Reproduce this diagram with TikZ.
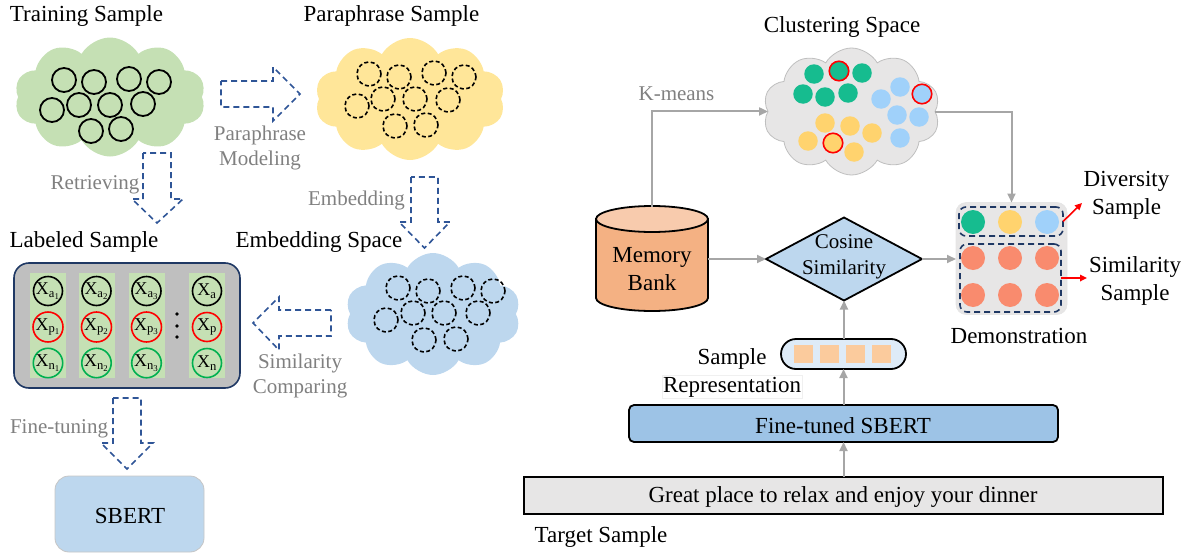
\documentclass[tikz,border=0pt]{standalone}
\usepackage{fontspec}
\setmainfont{Liberation Serif}
\usetikzlibrary{shapes.geometric,shapes.symbols,arrows.meta}

\definecolor{cgreen}{HTML}{C5E0B4}
\definecolor{cyellow}{HTML}{FFE699}
\definecolor{cblue}{HTML}{BDD7EE}
\definecolor{cgray}{HTML}{E7E6E6}
\definecolor{navy}{HTML}{2F5597}
\definecolor{darknavy}{HTML}{1F3864}
\definecolor{labgray}{HTML}{BFBFBF}
\definecolor{txtgray}{HTML}{808080}
\definecolor{lngray}{HTML}{A6A6A6}
\definecolor{pgreen}{HTML}{00B050}
\definecolor{dteal}{HTML}{16BC8F}
\definecolor{dsky}{HTML}{A0D1FA}
\definecolor{dgold}{HTML}{FFD36E}
\definecolor{dsalmon}{HTML}{F98B6E}
\definecolor{bankbody}{HTML}{F4B183}
\definecolor{banktop}{HTML}{F8CBAD}
\definecolor{sbertblue}{HTML}{9DC3E6}
\definecolor{pillblue}{HTML}{DEEBF7}
\definecolor{cellfill}{HTML}{FBCB9D}

\newcommand{\xsub}[2]{X\textsubscript{#1\textsubscript{#2}}}

\tikzset{
  every node/.style={inner sep=0pt, outer sep=0pt},
  ttl/.style={font=\fontsize{23}{28}\selectfont, anchor=base},
  ttl2/.style={font=\fontsize{23}{28}\selectfont, align=center},
  glabel/.style={font=\fontsize{21}{26}\selectfont, text=txtgray, anchor=base},
  glabel2/.style={font=\fontsize{21}{25}\selectfont, text=txtgray, align=center},
  cloudnode/.style={cloud, cloud puffs=10, cloud puff arc=120, aspect=1.6},
  ring/.style={circle, draw, line width=1.8pt, minimum size=24pt},
  dring/.style={ring, line width=1.6pt, dash pattern=on 4pt off 2.5pt},
  col/.style={fill=cgreen, minimum width=36pt, minimum height=105pt},
  lab/.style={circle, draw, line width=1.6pt, minimum size=29pt, font=\fontsize{18}{20}\selectfont},
  blockarrow/.style={draw=navy, line width=1.6pt, dash pattern=on 6pt off 4pt, line join=miter},
  garrow/.style={draw=lngray, line width=2pt, -{Triangle[length=9pt,width=8pt]}},
  rarrow/.style={draw=red, line width=1.6pt, -{Triangle[length=7pt,width=6.5pt]}},
  dot/.style={circle, minimum size=19.5pt},
  pick/.style={draw=red, line width=1.6pt},
  ddot/.style={circle, minimum size=24pt},
  groupbox/.style={draw=darknavy, line width=1.6pt, dash pattern=on 6pt off 4pt, rounded corners=7pt},
}

\begin{document}
\begin{tikzpicture}[x=1pt, y=-1pt]
\useasboundingbox (0,0) rectangle (1191,554);

% ---------------- left pipeline ----------------
\node[ttl] (tTrain) at (86.5,21) {Training Sample};
\node[ttl] (tPara) at (391.5,21) {Paraphrase Sample};
\node[ttl] (tLab) at (84,247) {Labeled Sample};
\node[ttl] (tEmb) at (319,247) {Embedding Space};

% clouds
\node[cloudnode, fill=cgreen, minimum width=191pt, minimum height=119pt] (train) at (110,97) {};
\node[cloudnode, fill=cyellow, minimum width=190pt, minimum height=122pt] (para) at (410,99) {};
\node[cloudnode, fill=cblue, minimum width=175pt, minimum height=122pt] (emb) at (433,314) {};

\foreach \x/\y [count=\i] in {64/80,94/82,129/79,159/82,52/110,79/105,110/105,143/104,91/131,121/129}
  \node[ring] (g\i) at (\x,\y) {};
\foreach \x/\y [count=\i] in {369/74,399/77,434/73,464/77,357/106,383/99,415/99,448/100,395/126,426/125}
  \node[dring] (y\i) at (\x,\y) {};
\foreach \x/\y [count=\i] in {398/288,428/291,463/288,493/291,386/320,413/313,444/313,478/313,424/340,456/339}
  \node[dring] (b\i) at (\x,\y) {};

% dashed block arrows
\draw[blockarrow] (221,81) -- (273,81) -- (273,67) -- (300,94) -- (273,121) -- (273,107) -- (221,107) -- cycle;
\draw[blockarrow] (143,153) -- (143,199) -- (132,199) -- (157,223) -- (183,199) -- (171,199) -- (171,153) -- cycle;
\draw[blockarrow] (411,177) -- (411,222) -- (399,222) -- (424.5,248) -- (450,222) -- (438,222) -- (438,177) -- cycle;
\draw[blockarrow] (331,310) -- (279,310) -- (279,297) -- (253,323) -- (279,350) -- (279,336) -- (331,336) -- cycle;
\draw[blockarrow] (113,398) -- (113,443) -- (101,443) -- (127,469) -- (153,443) -- (141,443) -- (141,398) -- cycle;

\node[glabel2] (lPara) at (260,148) {Paraphrase\\Modeling};
\node[glabel] (lRet) at (95,189) {Retrieving};
\node[glabel] (lEmb) at (356.5,205) {Embedding};
\node[glabel2] (lSim) at (300,375.6) {Similarity\\Comparing};
\node[glabel] (lFine) at (59,433) {Fine-tuning};

% labeled sample table
\node[draw=darknavy, fill=labgray, line width=1.6pt, rounded corners=15pt,
      minimum width=226pt, minimum height=125pt] (labbox) at (127,325.5) {};
\foreach \x [count=\i] in {48,96.5,146.5,207}
  \node[col] (c\i) at (\x,325.5) {};
\foreach \x [count=\i] in {48,96.5,146.5} {
  \node[lab] (xa\i) at (\x,291) {\xsub{a}{\i}};
  \node[lab, draw=red] (xp\i) at (\x,327) {\xsub{p}{\i}};
  \node[lab, draw=pgreen] (xn\i) at (\x,363) {\xsub{n}{\i}};
}
\node[lab] (xa) at (207,291) {X\textsubscript{a}};
\node[lab, draw=red] (xp) at (207,327) {X\textsubscript{p}};
\node[lab, draw=pgreen] (xn) at (207,363) {X\textsubscript{n}};
\fill (177,314) circle (1.8) (177,326) circle (1.8) (177,337) circle (1.8);

% SBERT
\node[draw=gray!45, fill=cblue, line width=0.8pt, rounded corners=14pt,
      minimum width=149pt, minimum height=76pt] (sbert) at (129.5,514) {};
\node[ttl] (sbertT) at (130,523) {SBERT};

% ---------------- right pipeline ----------------
\node[ttl] (tClus) at (842,32) {Clustering Space};
\node[cloudnode, fill=cgray, draw=gray!50, line width=0.8pt,
      minimum width=177pt, minimum height=127pt] (clus) at (851.5,111.5) {};

\foreach \x/\y [count=\i] in {814/74,862/73,803/94,825/97,848/93}
  \node[dot, fill=dteal] (dg\i) at (\x,\y) {};
\node[dot, fill=dteal, pick] (dg6) at (839,71) {};
\foreach \x/\y [count=\i] in {900/87,881/99,897/115,919/117,900/138}
  \node[dot, fill=dsky] (ds\i) at (\x,\y) {};
\node[dot, fill=dsky, pick] (ds6) at (922,94) {};
\foreach \x/\y [count=\i] in {825/123,850/126,872/133,808/141,854/152}
  \node[dot, fill=dgold] (dy\i) at (\x,\y) {};
\node[dot, fill=dgold, pick] (dy6) at (833,143) {};

\node[glabel] (lKm) at (676.5,100) {K-means};

% memory bank cylinder
\node[minimum width=112pt, minimum height=105pt] (mem) at (652,259) {};
\filldraw[fill=bankbody, draw=black, line width=1.8pt]
  (596,219) -- (596,298) arc[start angle=180, end angle=0, x radius=56, y radius=13] -- (708,219) -- cycle;
\filldraw[fill=banktop, draw=black, line width=1.8pt] (652,219) ellipse [x radius=56, y radius=13];
\node[ttl2] (memT) at (652,268.6) {Memory\\Bank};

% cosine similarity
\node[diamond, draw, fill=cblue, line width=1.8pt, minimum width=156pt, minimum height=83pt] (cos) at (844,259) {};
\node[font=\fontsize{21}{26}\selectfont, align=center] (cosT) at (844,257.1) {Cosine\\Similarity};

% sample representation
\node[draw, fill=pillblue, line width=1.8pt, rounded corners=15pt,
      minimum width=125pt, minimum height=30pt] (rep) at (843.5,354) {};
\foreach \x [count=\i] in {803,829,855,881}
  \node[fill=cellfill, minimum width=19pt, minimum height=18pt] (cell\i) at (\x,354) {};
\node[ttl] (repT1) at (732,364) {Sample};
\node[ttl, draw=gray!12, line width=0.6pt, inner xsep=1pt, inner ysep=1.5pt] (repT2) at (732,392) {Representation};

% fine-tuned SBERT and target sample
\node[draw, fill=sbertblue, line width=1.8pt, rounded corners=5pt,
      minimum width=429pt, minimum height=37pt] (ftsbert) at (843.5,423.5) {};
\node[ttl] (ftT) at (843,433) {Fine-tuned SBERT};
\node[draw, fill=cgray, line width=1.8pt, minimum width=639pt, minimum height=37pt] (target) at (843.5,495.5) {};
\node[ttl] (targetT) at (843,502) {Great place to relax and enjoy your dinner};
\node[ttl] (tTarget) at (601,542) {Target Sample};

% demonstration
\node[fill=cgray, draw=gray!20, line width=0.6pt, rounded corners=10pt,
      minimum width=111pt, minimum height=112pt] (demo) at (1011.5,258.5) {};
\node[groupbox, minimum width=104pt, minimum height=29pt] (divbox) at (1011,221.5) {};
\node[groupbox, minimum width=101pt, minimum height=68pt] (simbox) at (1010.5,278) {};
\node[ddot, fill=dteal] (e1) at (973,222) {};
\node[ddot, fill=dgold] (e2) at (1010,222) {};
\node[ddot, fill=dsky] (e3) at (1047,222) {};
\foreach \y [count=\j] in {258,295}
  \foreach \x [count=\i] in {973,1010,1047}
    \node[ddot, fill=dsalmon] (s\j\i) at (\x,\y) {};
\node[ttl] (tDemo) at (1019,343) {Demonstration};
\node[ttl2] (tDiv) at (1126.5,195.6) {Diversity\\Sample};
\node[ttl2] (tSim) at (1135,280.6) {Similarity\\Sample};
\coordinate (divtip) at (1082,203);
\coordinate (simtip) at (1087,278);

% connectors
\draw[garrow] (mem.north) |- (clus.west);
\draw[garrow] (clus.east) -| (demo.north);
\draw[garrow] (mem.east) -- (cos.west);
\draw[garrow] (cos.east) -- (cos.east -| demo.west);
\draw[garrow] (rep.north -| cos.south) -- (cos.south);
\draw[garrow] (ftsbert.north -| rep.south) -- (rep.south);
\draw[garrow] (target.north) -- (ftsbert.south);
\draw[rarrow] (divbox.east) -- (divtip);
\draw[rarrow] (simbox.east) -- (simtip);
\end{tikzpicture}
\end{document}
